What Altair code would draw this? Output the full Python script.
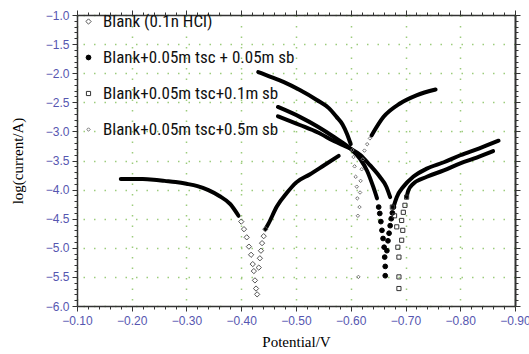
import altair as alt
import pandas as pd

# ---- series names (legend order) ----
series_names = [
    "Blank (0.1n HCl)",
    "Blank+0.05m tsc + 0.05m sb",
    "Blank+0.05m tsc+0.1m sb",
    "Blank+0.05m tsc+0.5m sb",
]

# part: L = dense left branch, R = dense right branch, P = separate markers
blank_v = [-0.18, -0.20, -0.22, -0.24, -0.26, -0.28, -0.30, -0.32, -0.34, -0.36, -0.38, -0.395,
           -0.400, -0.405, -0.410, -0.414, -0.418, -0.421, -0.423, -0.425, -0.427, -0.429,
           -0.432, -0.434, -0.436, -0.438, -0.441, -0.444,
           -0.444, -0.450, -0.465, -0.483, -0.500, -0.525, -0.550, -0.578]
blank_i = [-3.82, -3.82, -3.82, -3.83, -3.85, -3.87, -3.90, -3.94, -4.01, -4.11, -4.25, -4.45,
           -4.55, -4.68, -4.82, -4.98, -5.12, -5.28, -5.40, -5.56, -5.70, -5.80,
           -5.34, -5.18, -5.05, -4.92, -4.80, -4.68,
           -4.68, -4.58, -4.29, -4.06, -3.88, -3.74, -3.59, -3.42]
blank_p = ["L"] * 12 + ["P"] * 16 + ["R"] * 8

sb005_v = [-0.467, -0.507, -0.540, -0.570, -0.600, -0.617, -0.630, -0.641, -0.648,
           -0.651, -0.653, -0.655, -0.657, -0.659, -0.661, -0.662, -0.663, -0.663,
           -0.666, -0.668, -0.670, -0.672, -0.674, -0.676, -0.678,
           -0.678, -0.684, -0.696, -0.714, -0.739, -0.770, -0.800, -0.835, -0.870]
sb005_i = [-2.58, -2.75, -2.92, -3.10, -3.30, -3.47, -3.68, -3.95, -4.15,
           -4.30, -4.41, -4.55, -4.70, -4.84, -4.99, -5.16, -5.32, -5.48,
           -5.05, -4.88, -4.75, -4.62, -4.50, -4.40, -4.30,
           -4.30, -4.13, -3.95, -3.78, -3.64, -3.53, -3.41, -3.29, -3.16]
sb005_p = ["L"] * 9 + ["P"] * 16 + ["R"] * 9

sb01_v = [-0.467, -0.507, -0.540, -0.570, -0.600, -0.617, -0.635, -0.653, -0.665, -0.672,
          -0.676, -0.680, -0.684, -0.686, -0.688, -0.688, -0.688,
          -0.693, -0.695, -0.693, -0.696, -0.699, -0.702,
          -0.702, -0.705, -0.714, -0.739, -0.770, -0.800, -0.830, -0.860]
sb01_i = [-2.74, -2.89, -3.02, -3.17, -3.30, -3.40, -3.58, -3.78, -3.95, -4.13,
          -4.30, -4.45, -4.64, -4.99, -5.16, -5.50, -5.70,
          -4.87, -4.70, -4.53, -4.39, -4.27, -4.13,
          -4.13, -4.02, -3.90, -3.78, -3.67, -3.55, -3.45, -3.34]
sb01_p = ["L"] * 10 + ["P"] * 13 + ["R"] * 8

sb05_v = [-0.431, -0.450, -0.477, -0.507, -0.538, -0.560, -0.574, -0.585, -0.593, -0.600,
          -0.603, -0.605, -0.607, -0.609, -0.611, -0.612, -0.613, -0.614,
          -0.616, -0.617, -0.618, -0.620, -0.622, -0.625, -0.630, -0.635,
          -0.638, -0.660, -0.690, -0.720, -0.755]
sb05_i = [-1.98, -2.05, -2.15, -2.29, -2.46, -2.60, -2.75, -2.88, -3.04, -3.22,
          -3.32, -3.44, -3.60, -3.78, -3.95, -4.15, -4.45, -5.50,
          -4.30, -4.05, -3.85, -3.65, -3.48, -3.33, -3.22, -3.12,
          -3.07, -2.75, -2.52, -2.38, -2.28]
sb05_p = ["L"] * 10 + ["P"] * 16 + ["R"] * 5

# ---- axis tick values ----
x_ticks = [round(-0.10 - 0.02 * k, 2) for k in range(41)]
y_ticks = [round(-1.0 - 0.1 * k, 1) for k in range(51)]

rows = []
for name, vals, logs, parts in zip(series_names,
                                   [blank_v, sb005_v, sb01_v, sb05_v],
                                   [blank_i, sb005_i, sb01_i, sb05_i],
                                   [blank_p, sb005_p, sb01_p, sb05_p]):
    for v, li, p in zip(vals, logs, parts):
        rows.append({"series": name, "V": v, "logI": li, "part": p, "seg": name + p})
df = pd.DataFrame(rows)

x_major = "abs(datum.value*10 - round(datum.value*10)) < 0.001"
y_major = "abs(datum.value*2 - round(datum.value*2)) < 0.001"
label_col = "#5656b0"
axis_col = "#333333"

x_scale = alt.Scale(domain=[-0.9, -0.1], reverse=True, nice=False, zero=False)
y_scale = alt.Scale(domain=[-6.0, -1.0], nice=False, zero=False)

bottom_axis = alt.Axis(
    orient="bottom", values=x_ticks,
    labelExpr=f"({x_major}) ? format(datum.value, '.2f') : ''",
    labelOverlap=False, labelFlush=False, labelColor=label_col,
    labelFont="Liberation Sans", labelFontSize=12, labelPadding=4,
    tickSize={"condition": {"test": x_major, "value": 5}, "value": 3},
    tickColor=axis_col, domainColor=axis_col, domainWidth=1.5,
    grid=True, gridColor="#9ccc7c", gridDash=[1.5, 9], gridWidth=1.5,
    gridOpacity={"condition": {"test": x_major, "value": 1}, "value": 0},
    title="Potential/V", titleFont="Liberation Serif", titleFontSize=15,
    titleFontWeight="normal", titleColor="black", titlePadding=8,
)
left_axis = alt.Axis(
    orient="left", values=y_ticks,
    labelExpr=f"({y_major}) ? format(datum.value, '.1f') : ''",
    labelOverlap=False, labelFlush=False, labelColor=label_col,
    labelFont="Liberation Sans", labelFontSize=12, labelPadding=3,
    tickSize={"condition": {"test": y_major, "value": 5}, "value": 3},
    tickColor=axis_col, domainColor=axis_col, domainWidth=1.5,
    grid=True, gridColor="#9ccc7c", gridDash=[1.5, 9], gridWidth=1.5,
    gridOpacity={"condition": {"test": y_major, "value": 1}, "value": 0},
    title="log(current/A)", titleFont="Liberation Serif", titleFontSize=15,
    titleFontWeight="normal", titleColor="black", titlePadding=20,
)
top_axis = alt.Axis(
    orient="top", values=x_ticks, labels=False, grid=False,
    tickSize={"condition": {"test": x_major, "value": 5}, "value": 3},
    tickColor=axis_col, domainColor=axis_col, domainWidth=1.5,
)
right_axis = alt.Axis(
    orient="right", values=y_ticks, labels=False, grid=False,
    tickSize={"condition": {"test": y_major, "value": 5}, "value": 3},
    tickColor=axis_col, domainColor=axis_col, domainWidth=2,
)

lines = alt.Chart(df).transform_filter("datum.part != 'P'").mark_line(
    color="black", strokeWidth=4, interpolate="monotone", strokeCap="round"
).encode(
    x=alt.X("V:Q", scale=x_scale, axis=top_axis, title=None),
    y=alt.Y("logI:Q", scale=y_scale, axis=right_axis, title=None),
    detail="seg:N",
)

legend = alt.Legend(
    orient="none", legendX=3, legendY=-2, title=None, padding=0,
    labelFont="Liberation Sans Narrow, Roboto Condensed, DejaVu Sans Condensed, Liberation Sans",
    labelFontSize=17, labelFontWeight="normal", labelColor="#111111",
    rowPadding=18, labelOffset=6, symbolStrokeWidth=1, labelLimit=400,
)

points = alt.Chart(df).transform_filter("datum.part == 'P'").mark_point(
    strokeWidth=1, opacity=1
).encode(
    x=alt.X("V:Q", scale=x_scale, axis=bottom_axis),
    y=alt.Y("logI:Q", scale=y_scale, axis=left_axis),
    shape=alt.Shape("series:N", title=None, legend=legend,
                    scale=alt.Scale(domain=series_names,
                                    range=["diamond", "circle", "square", "diamond"])),
    fill=alt.Fill("series:N", title=None, legend=legend,
                  scale=alt.Scale(domain=series_names,
                                  range=["transparent", "black", "transparent", "transparent"])),
    stroke=alt.Stroke("series:N", title=None, legend=legend,
                      scale=alt.Scale(domain=series_names,
                                      range=["#555555", "black", "#333333", "#777777"])),
    size=alt.Size("series:N", title=None, legend=legend,
                  scale=alt.Scale(domain=series_names, range=[28, 12, 26, 14])),
)

chart = alt.layer(lines, points).resolve_axis(x="independent", y="independent").properties(
    width=438, height=291,
    autosize=alt.AutoSizeParams(type="none"),
    padding={"left": 77, "top": 15, "right": 14, "bottom": 48},
    background="white",
).configure_view(stroke=None)

chart.save("out.html", embed_options={"renderer": "svg", "actions": False})
